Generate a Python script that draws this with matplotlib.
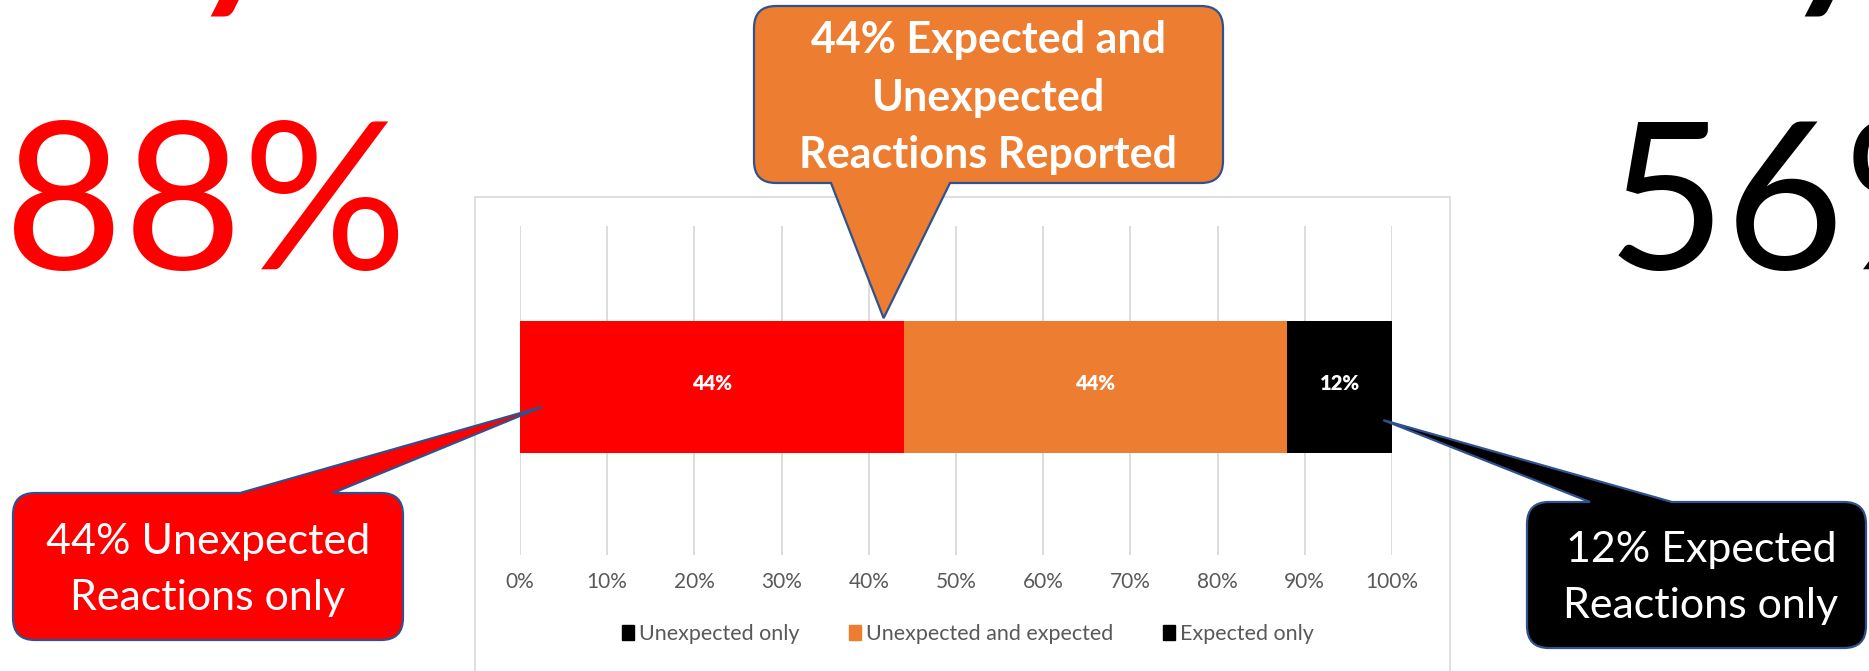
import matplotlib
matplotlib.use("Agg")
import matplotlib.pyplot as plt
from matplotlib.patches import Patch, PathPatch, Rectangle
from matplotlib.path import Path

W, H = 1869, 671
FONT = "Lato"

# data
categories = ["Unexpected only", "Unexpected and expected", "Expected only"]
shares = [44, 44, 12]
bar_colors = ["#FF0000", "#ED7D31", "#000000"]
legend_colors = ["#000000", "#ED7D31", "#000000"]
ticks = list(range(0, 101, 10))
tick_labels = [f"{t}%" for t in ticks]

big_left, big_right = "88%", "56%"
orange_lines = ["44% Expected and", "Unexpected", "Reactions Reported"]
red_lines = ["44% Unexpected", "Reactions only"]
black_lines = ["12% Expected", "Reactions only"]

EDGE = "#2F528F"


def fx(x, y):
    """pixel (top-left origin) -> figure fraction"""
    return x / W, 1 - y / H


fig = plt.figure(figsize=(W / 100, H / 100), dpi=100)
fig.patch.set_facecolor("white")

# chart area border
x0, y0 = fx(475, 197)
fig.add_artist(Rectangle((x0, -0.2), 975 / W, y0 + 0.2, transform=fig.transFigure,
                         fill=False, ec="#D9D9D9", lw=1.2))

ax = fig.add_axes([520 / W, 1 - 555 / H, 872 / W, 329 / H])
left = 0
for share, col in zip(shares, bar_colors):
    ax.barh(0, share, left=left, height=0.4, color=col, zorder=3)
    ax.text(left + share / 2, 0.01, f"{share}%", ha="center", va="center",
            color="white", fontsize=14.5, fontweight="heavy", family=FONT, zorder=4)
    left += share

ax.set_xlim(0, 100)
ax.set_ylim(-0.51, 0.49)
ax.set_xticks(ticks)
ax.set_xticklabels(tick_labels, family=FONT, fontsize=15, color="#595959")
ax.set_yticks([])
ax.tick_params(axis="x", length=0, pad=12)
ax.grid(axis="x", color="#D9D9D9", lw=1.3, zorder=0)
for s in ax.spines.values():
    s.set_visible(False)
ax.patch.set_alpha(0)

handles = [Patch(color=c) for c in legend_colors]
fig.legend(handles, categories, loc="center", bbox_to_anchor=fx(968, 634),
           ncol=3, frameon=False, handlelength=0.55, handleheight=0.75,
           handletextpad=0.25, columnspacing=2.3,
           prop={"family": FONT, "size": 15.5}, labelcolor="#595959")

# big numbers
fig.text(*fx(4, 269), big_left, color="#FF0000", fontsize=148, family=FONT, va="baseline")
fig.text(*fx(1607, 269), big_right, color="black", fontsize=148, family=FONT, va="baseline")
# bottoms of glyphs cut off at the top edge
fig.text(*fx(186, 17), "7", color="#FF0000", fontsize=148, family=FONT, va="baseline")
fig.text(*fx(1780, 17), "7", color="black", fontsize=148, family=FONT, va="baseline")


def callout(box, base, tip, side, face):
    bx0, by0, bx1, by1 = box
    r = 22
    tx, ty = fig.transFigure.inverted().transform(ax.transData.transform(tip))
    tp = (tx * W, (1 - ty) * H)
    verts, codes = [(bx0 + r, by0)], [Path.MOVETO]

    def line(p):
        verts.append(p)
        codes.append(Path.LINETO)

    def curve(c, p):
        verts.extend([c, p])
        codes.extend([Path.CURVE3, Path.CURVE3])

    if side == "top":
        line((base[0], by0)); line(tp); line((base[1], by0))
    line((bx1 - r, by0)); curve((bx1, by0), (bx1, by0 + r))
    line((bx1, by1 - r)); curve((bx1, by1), (bx1 - r, by1))
    if side == "bottom":
        line((base[1], by1)); line(tp); line((base[0], by1))
    line((bx0 + r, by1)); curve((bx0, by1), (bx0, by1 - r))
    line((bx0, by0 + r)); curve((bx0, by0), (bx0 + r, by0))
    verts.append((0, 0))
    codes.append(Path.CLOSEPOLY)
    verts = [fx(*v) for v in verts]
    fig.add_artist(PathPatch(Path(verts, codes), transform=fig.transFigure,
                             fc=face, ec=EDGE, lw=1.6, zorder=5))


callout((754, 6, 1223, 183), (831, 950), (41.7, 0.21), "bottom", "#ED7D31")
callout((13, 493, 403, 640), (240, 333), (2.5, -0.06), "top", "#FF0000")
callout((1527, 502, 1866, 648), (1590, 1672), (99.0, -0.10), "top", "#000000")

for txt, yb in zip(orange_lines, [53, 111, 168]):
    fig.text(*fx(988, yb), txt, ha="center", va="baseline", color="white",
             fontsize=31, fontweight="bold", family=FONT, zorder=6)
for txt, yb in zip(red_lines, [554, 610]):
    fig.text(*fx(208, yb), txt, ha="center", va="baseline", color="white",
             fontsize=31, family=FONT, zorder=6)
for txt, yb in zip(black_lines, [562, 618]):
    fig.text(*fx(1701, yb), txt, ha="center", va="baseline", color="white",
             fontsize=31, family=FONT, zorder=6)

fig.savefig("out.png", dpi=100)
